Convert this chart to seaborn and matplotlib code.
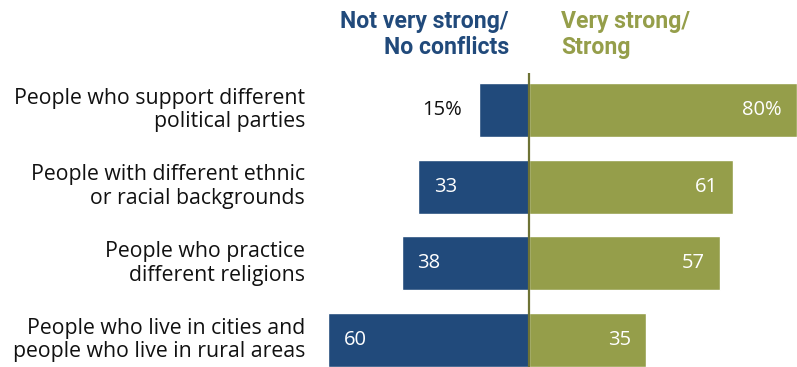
import matplotlib
matplotlib.use("Agg")
import matplotlib.pyplot as plt
import seaborn as sns
import pandas as pd
from matplotlib.transforms import blended_transform_factory, offset_copy

categories = [
    "People who support different\npolitical parties",
    "People with different ethnic\nor racial backgrounds",
    "People who practice\ndifferent religions",
    "People who live in cities and\npeople who live in rural areas",
]
not_strong = [15, 33, 38, 60]
strong = [80, 61, 57, 35]
left_labels = ["15%", "33", "38", "60"]
right_labels = ["80%", "61", "57", "35"]

BLUE = "#214A7B"
OLIVE = "#959E4A"
AXIS = "#6E7335"

sns.set_theme(style="white")
plt.rcParams["font.family"] = ["Open Sans", "DejaVu Sans"]
HEAD = ["Roboto", "DejaVu Sans"]

df = pd.DataFrame({"cat": categories, "neg": [-v for v in not_strong], "pos": strong})

fig = plt.figure(figsize=(7.97, 3.67), dpi=100)
ax = fig.add_axes([301 / 797, 0.0, 1 - 301 / 797, (367 - 73) / 367])

sns.barplot(data=df, y="cat", x="neg", orient="h", color=BLUE, width=0.705,
            saturation=1, ax=ax)
sns.barplot(data=df, y="cat", x="pos", orient="h", color=OLIVE, width=0.705,
            saturation=1, ax=ax)

ax.set_xlim(-68, 80)
ax.set_ylim(3.352, -0.483)
ax.axvline(0, color=AXIS, lw=1.6, zorder=5)
ax.set_axis_off()

# category labels, right-aligned to the left of the bars
tr = blended_transform_factory(fig.transFigure, ax.transData)
for i, c in enumerate(categories):
    ax.text(305 / 797, i, c, transform=tr, ha="right", va="center",
            fontsize=15.3, linespacing=1.18, color="#111111", clip_on=False)

# value labels
px = ax.transData
for i, (v, lab) in enumerate(zip(not_strong, left_labels)):
    if v < 20:
        t = offset_copy(px, fig=fig, x=-17, y=0, units="dots")
        ax.text(-v, i, lab, transform=t, ha="right", va="center",
                fontsize=14.5, color="#111111")
    else:
        t = offset_copy(px, fig=fig, x=16, y=0, units="dots")
        ax.text(-v, i, lab, transform=t, ha="left", va="center",
                fontsize=14.5, color="white")
for i, (v, lab) in enumerate(zip(strong, right_labels)):
    t = offset_copy(px, fig=fig, x=-15, y=0, units="dots")
    ax.text(v, i, lab, transform=t, ha="right", va="center",
            fontsize=14.5, color="white")

# column headers
fig.text(509 / 797, 1 - 10 / 367, "Not very strong/\nNo conflicts", ha="right", va="top",
         fontsize=16.6, fontweight="bold", color=BLUE, family=HEAD,
         linespacing=1.18)
fig.text(561 / 797, 1 - 10 / 367, "Very strong/\nStrong", ha="left", va="top",
         fontsize=16.6, fontweight="bold", color=OLIVE, family=HEAD,
         linespacing=1.18)

fig.savefig("out.png", dpi=100)
